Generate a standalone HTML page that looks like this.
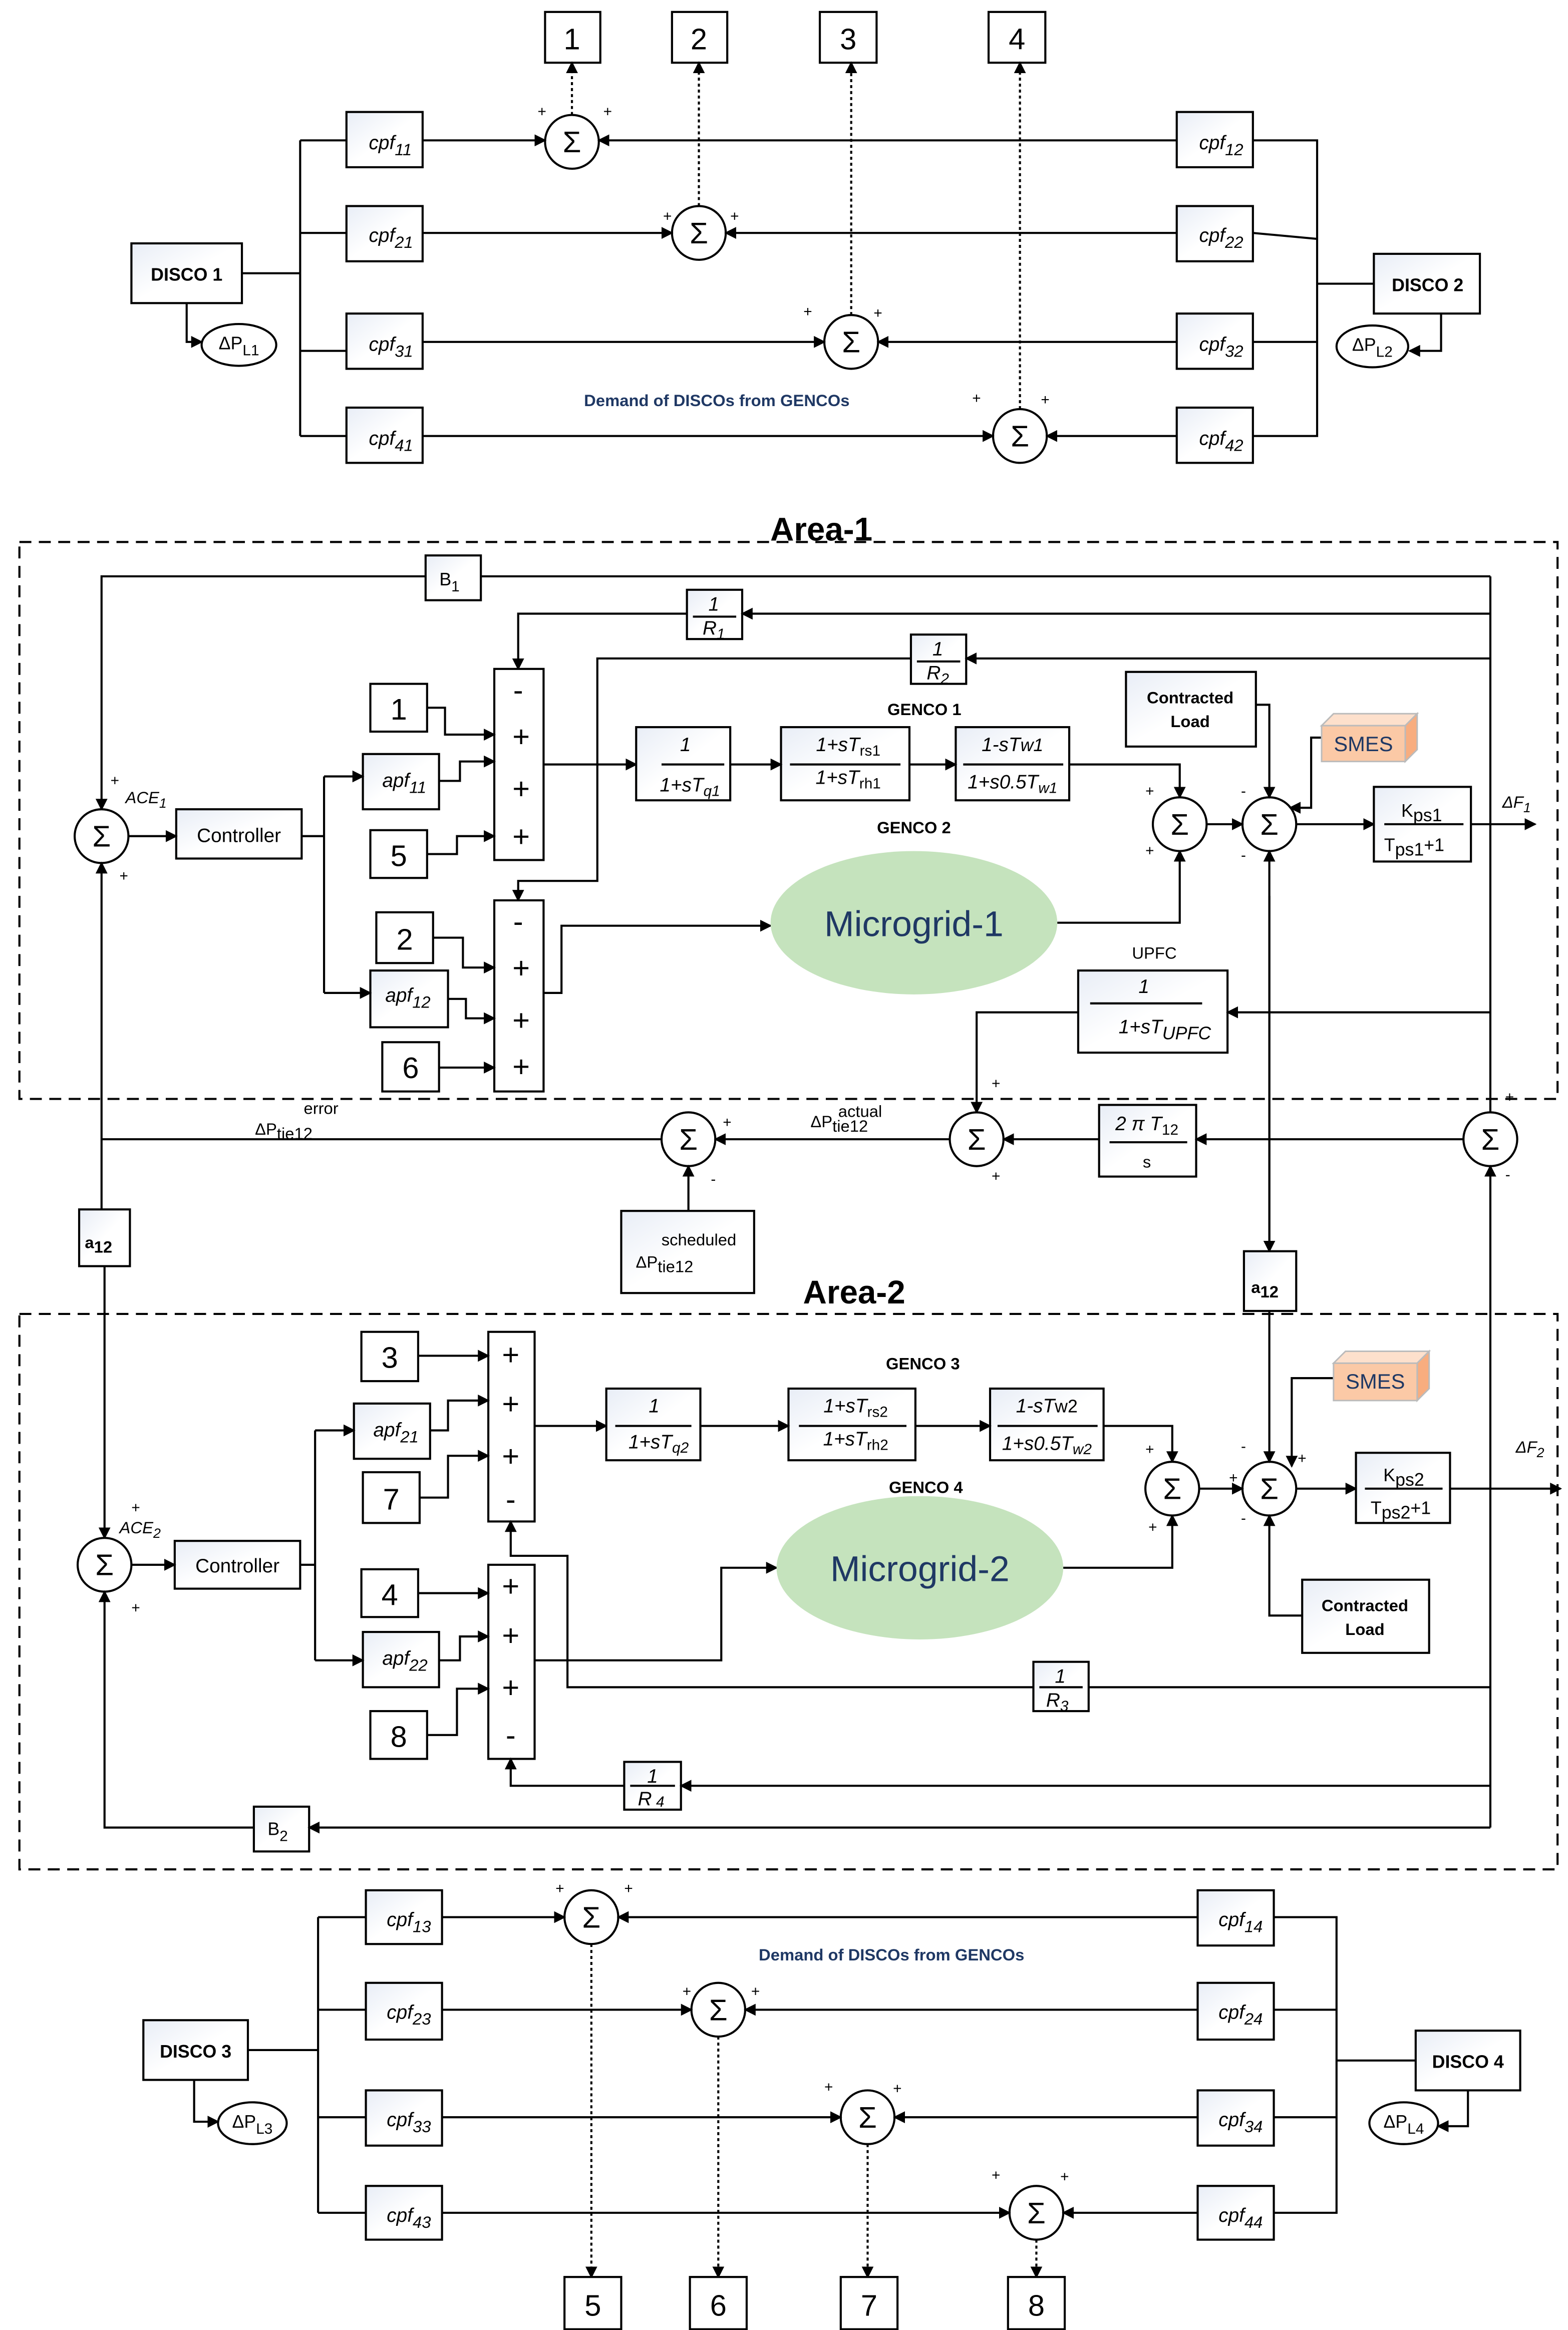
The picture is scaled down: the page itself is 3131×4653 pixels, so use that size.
<!DOCTYPE html>
<html><head><meta charset="utf-8"><style>
html,body{margin:0;padding:0;background:#fff}
svg{display:block}
text{font-family:"Liberation Sans",sans-serif;fill:#000}
</style></head><body>
<svg width="3131" height="4653" viewBox="0 0 1050 1560.5" preserveAspectRatio="none" xmlns="http://www.w3.org/2000/svg">
<defs>
<marker id="a" markerWidth="8" markerHeight="8" refX="7" refY="4" orient="auto" markerUnits="userSpaceOnUse"><path d="M0,0 L8,4 L0,8 z" fill="#000"/></marker>
<linearGradient id="g" x1="0" y1="0" x2="1" y2="1"><stop offset="0" stop-color="#e8edf6"/><stop offset="0.5" stop-color="#fff"/></linearGradient>
</defs>
<g fill="none" stroke="#000" stroke-width="1.4">

<!-- ===== TOP ===== -->
<rect x="365" y="8" width="37" height="34" fill="#fff"/>
<rect x="450" y="8" width="37" height="34" fill="#fff"/>
<rect x="549" y="8" width="38" height="34" fill="#fff"/>
<rect x="662" y="8" width="38" height="34" fill="#fff"/>
<rect x="232" y="75" width="51" height="37" fill="url(#g)"/>
<rect x="232" y="138" width="51" height="37" fill="url(#g)"/>
<rect x="232" y="210" width="51" height="37" fill="url(#g)"/>
<rect x="232" y="273" width="51" height="37" fill="url(#g)"/>
<rect x="788" y="75" width="51" height="37" fill="url(#g)"/>
<rect x="788" y="138" width="51" height="37" fill="url(#g)"/>
<rect x="788" y="210" width="51" height="37" fill="url(#g)"/>
<rect x="788" y="273" width="51" height="37" fill="url(#g)"/>
<rect x="88" y="163" width="74" height="40" fill="url(#g)"/>
<rect x="920" y="170" width="71" height="40" fill="url(#g)"/>
<ellipse cx="160" cy="231" rx="25" ry="14"/>
<ellipse cx="919" cy="232" rx="24" ry="14"/>
<path d="M125,203 V229 H135" marker-end="url(#a)"/>
<path d="M965,210 V235 H944" marker-end="url(#a)"/>
<path d="M162,183 H201 M201,94 V292 M201,94 H232 M201,156 H232 M201,235 H232 M201,292 H232"/>
<path d="M839,94 H882 V292 H839 M839,156 L882,160 M839,229 H882 M882,190 H920"/>
<circle cx="383" cy="95" r="18" fill="#fff"/>
<circle cx="468" cy="156" r="18" fill="#fff"/>
<circle cx="570" cy="229" r="18" fill="#fff"/>
<circle cx="683" cy="292" r="18" fill="#fff"/>
<path d="M283,94 H365" marker-end="url(#a)"/>
<path d="M788,94 H401" marker-end="url(#a)"/>
<path d="M283,156 H450" marker-end="url(#a)"/>
<path d="M788,156 H486" marker-end="url(#a)"/>
<path d="M283,229 H552" marker-end="url(#a)"/>
<path d="M788,229 H588" marker-end="url(#a)"/>
<path d="M283,292 H665" marker-end="url(#a)"/>
<path d="M788,292 H701" marker-end="url(#a)"/>
<g stroke-dasharray="2,2">
<path d="M383,77 V42" marker-end="url(#a)"/>
<path d="M468,138 V42" marker-end="url(#a)"/>
<path d="M570,211 V42" marker-end="url(#a)"/>
<path d="M683,274 V42" marker-end="url(#a)"/>
</g>

<!-- ===== AREA 1 ===== -->
<rect x="13" y="363" width="1030" height="373" stroke-dasharray="8,5"/>
<rect x="285" y="372" width="37" height="30" fill="url(#g)"/>
<rect x="460" y="395" width="37" height="33" fill="url(#g)"/>
<rect x="610" y="425" width="37" height="33" fill="url(#g)"/>
<path d="M998,386 H322 M285,386 H68 V542" marker-end="url(#a)"/>
<path d="M998,411 H497" marker-end="url(#a)"/>
<path d="M460,411 H347 V448" marker-end="url(#a)"/>
<path d="M998,441 H647" marker-end="url(#a)"/>
<path d="M610,441 H400 V590 H347 V603" marker-end="url(#a)"/>
<rect x="331" y="448" width="33" height="128" fill="#fff"/>
<rect x="331" y="603" width="33" height="128" fill="#fff"/>
<rect x="248" y="458" width="38" height="32" fill="#fff"/>
<rect x="243" y="505" width="51" height="37" fill="url(#g)"/>
<rect x="248" y="556" width="38" height="32" fill="#fff"/>
<rect x="252" y="611" width="38" height="34" fill="#fff"/>
<rect x="248" y="650" width="52" height="38" fill="url(#g)"/>
<rect x="256" y="698" width="38" height="33" fill="#fff"/>
<path d="M286,474 H298 V492 H331" marker-end="url(#a)"/>
<path d="M294,523 H308 V510 H331" marker-end="url(#a)"/>
<path d="M286,572 H306 V560 H331" marker-end="url(#a)"/>
<path d="M290,628 H310 V648 H331" marker-end="url(#a)"/>
<path d="M300,669 H312 V682 H331" marker-end="url(#a)"/>
<path d="M294,715 H331" marker-end="url(#a)"/>
<rect x="118" y="542" width="84" height="33" fill="url(#g)"/>
<circle cx="68" cy="560" r="18" fill="#fff"/>
<path d="M86,560 H118" marker-end="url(#a)"/>
<path d="M202,560 H217 M217,520 V665"/>
<path d="M217,520 H243" marker-end="url(#a)"/>
<path d="M217,665 H248" marker-end="url(#a)"/>
<path d="M364,512 H426" marker-end="url(#a)"/>
<rect x="426" y="487" width="63" height="49" fill="url(#g)"/>
<rect x="523" y="487" width="86" height="49" fill="url(#g)"/>
<rect x="640" y="487" width="76" height="49" fill="url(#g)"/>
<path d="M489,512 H523" marker-end="url(#a)"/>
<path d="M609,512 H640" marker-end="url(#a)"/>
<path d="M716,512 H790 V534" marker-end="url(#a)"/>
<path d="M364,665 H376 V620 H516" marker-end="url(#a)"/>
<path d="M708,618 H790 V570" marker-end="url(#a)"/>
<circle cx="790" cy="552" r="18" fill="#fff"/>
<circle cx="850" cy="552" r="18" fill="#fff"/>
<path d="M808,552 H832" marker-end="url(#a)"/>
<rect x="754" y="450" width="87" height="50" fill="url(#g)"/>
<path d="M841,472 H850 V534" marker-end="url(#a)"/>
<path d="M885,494 H878 V541 H864" marker-end="url(#a)"/>
<path d="M868,552 H920" marker-end="url(#a)"/>
<rect x="920" y="527" width="65" height="50" fill="url(#g)"/>
<path d="M985,552 H1028" marker-end="url(#a)"/>
<path d="M998,386 V745"/>
<path d="M850,838 V570" marker-end="url(#a)"/>
<path d="M850,600 V838" marker-end="url(#a)"/>
<rect x="833" y="838" width="35" height="40" fill="url(#g)"/>
<rect x="722" y="650" width="100" height="55" fill="url(#g)"/>
<path d="M998,678 H822" marker-end="url(#a)"/>
<path d="M722,678 H654 V745" marker-end="url(#a)"/>
<circle cx="998" cy="763" r="18" fill="#fff"/>
<circle cx="654" cy="763" r="18" fill="#fff"/>
<circle cx="461" cy="763" r="18" fill="#fff"/>
<rect x="736" y="740" width="65" height="48" fill="url(#g)"/>
<path d="M980,763 H801" marker-end="url(#a)"/>
<path d="M736,763 H672" marker-end="url(#a)"/>
<path d="M636,763 H479" marker-end="url(#a)"/>
<path d="M443,763 H68"/>
<rect x="416" y="811" width="89" height="55" fill="url(#g)"/>
<path d="M461,811 V781" marker-end="url(#a)"/>
<rect x="53" y="810" width="34" height="38" fill="url(#g)"/>
<path d="M68,810 V578" marker-end="url(#a)"/>
<path d="M70,848 V1030" marker-end="url(#a)"/>

<!-- ===== AREA 2 ===== -->
<rect x="13" y="880" width="1030" height="372" stroke-dasharray="8,5"/>
<rect x="242" y="892" width="38" height="33" fill="#fff"/>
<rect x="237" y="940" width="51" height="37" fill="url(#g)"/>
<rect x="243" y="986" width="38" height="34" fill="#fff"/>
<rect x="327" y="892" width="31" height="127" fill="#fff"/>
<rect x="327" y="1048" width="31" height="130" fill="#fff"/>
<rect x="242" y="1051" width="38" height="32" fill="#fff"/>
<rect x="243" y="1093" width="51" height="37" fill="url(#g)"/>
<rect x="248" y="1146" width="38" height="32" fill="#fff"/>
<path d="M280,908 H327" marker-end="url(#a)"/>
<path d="M288,958 H300 V938 H327" marker-end="url(#a)"/>
<path d="M281,1003 H300 V975 H327" marker-end="url(#a)"/>
<path d="M280,1067 H327" marker-end="url(#a)"/>
<path d="M294,1112 H308 V1096 H327" marker-end="url(#a)"/>
<path d="M286,1162 H306 V1131 H327" marker-end="url(#a)"/>
<rect x="117" y="1032" width="84" height="32" fill="url(#g)"/>
<circle cx="70" cy="1048" r="18" fill="#fff"/>
<path d="M88,1048 H117" marker-end="url(#a)"/>
<path d="M201,1048 H211 M211,958 V1112"/>
<path d="M211,958 H237" marker-end="url(#a)"/>
<path d="M211,1112 H243" marker-end="url(#a)"/>
<path d="M358,955 H406" marker-end="url(#a)"/>
<rect x="406" y="930" width="63" height="48" fill="url(#g)"/>
<rect x="528" y="930" width="85" height="48" fill="url(#g)"/>
<rect x="663" y="930" width="76" height="48" fill="url(#g)"/>
<path d="M469,955 H528" marker-end="url(#a)"/>
<path d="M613,955 H663" marker-end="url(#a)"/>
<path d="M739,955 H785 V979" marker-end="url(#a)"/>
<path d="M358,1112 H483 V1050 H520" marker-end="url(#a)"/>
<path d="M712,1050 H785 V1015" marker-end="url(#a)"/>
<circle cx="785" cy="997" r="18" fill="#fff"/>
<circle cx="850" cy="997" r="18" fill="#fff"/>
<path d="M803,997 H832" marker-end="url(#a)"/>
<path d="M850,878 V979" marker-end="url(#a)"/>
<path d="M893,923 H865 V982" marker-end="url(#a)"/>
<path d="M868,997 H908" marker-end="url(#a)"/>
<rect x="908" y="973" width="63" height="47" fill="url(#g)"/>
<path d="M971,997 H1045" marker-end="url(#a)"/>
<rect x="872" y="1058" width="85" height="49" fill="url(#g)"/>
<path d="M872,1082 H850 V1015" marker-end="url(#a)"/>
<path d="M998,1224 V781" marker-end="url(#a)"/>
<rect x="692" y="1113" width="37" height="33" fill="url(#g)"/>
<path d="M998,1130 H729 M692,1130 H380 V1042 H342 V1019" marker-end="url(#a)"/>
<rect x="418" y="1180" width="38" height="32" fill="url(#g)"/>
<path d="M998,1196 H456" marker-end="url(#a)"/>
<path d="M418,1196 H342 V1178" marker-end="url(#a)"/>
<rect x="170" y="1210" width="37" height="30" fill="url(#g)"/>
<path d="M998,1224 H207" marker-end="url(#a)"/>
<path d="M170,1224 H70 V1066" marker-end="url(#a)"/>

<!-- ===== BOTTOM ===== -->
<rect x="245" y="1266" width="51" height="36" fill="url(#g)"/>
<rect x="245" y="1328" width="51" height="38" fill="url(#g)"/>
<rect x="245" y="1400" width="51" height="37" fill="url(#g)"/>
<rect x="245" y="1464" width="51" height="36" fill="url(#g)"/>
<rect x="802" y="1266" width="51" height="37" fill="url(#g)"/>
<rect x="802" y="1328" width="51" height="38" fill="url(#g)"/>
<rect x="802" y="1400" width="51" height="37" fill="url(#g)"/>
<rect x="802" y="1464" width="51" height="36" fill="url(#g)"/>
<rect x="96" y="1353" width="70" height="40" fill="url(#g)"/>
<rect x="948" y="1360" width="70" height="40" fill="url(#g)"/>
<ellipse cx="169" cy="1422" rx="23" ry="14"/>
<ellipse cx="940" cy="1422" rx="23" ry="14"/>
<path d="M130,1393 V1421 H146" marker-end="url(#a)"/>
<path d="M983,1400 V1424 H963" marker-end="url(#a)"/>
<path d="M166,1373 H213 M213,1284 V1482 M213,1284 H245 M213,1346 H245 M213,1418 H245 M213,1482 H245"/>
<path d="M853,1284 H895 V1482 H853 M853,1346 H895 M853,1418 H895 M895,1380 H948"/>
<circle cx="396" cy="1284" r="18" fill="#fff"/>
<circle cx="481" cy="1346" r="18" fill="#fff"/>
<circle cx="581" cy="1418" r="18" fill="#fff"/>
<circle cx="694" cy="1482" r="18" fill="#fff"/>
<path d="M296,1284 H378" marker-end="url(#a)"/>
<path d="M802,1284 H414" marker-end="url(#a)"/>
<path d="M296,1346 H463" marker-end="url(#a)"/>
<path d="M802,1346 H499" marker-end="url(#a)"/>
<path d="M296,1418 H563" marker-end="url(#a)"/>
<path d="M802,1418 H599" marker-end="url(#a)"/>
<path d="M296,1482 H676" marker-end="url(#a)"/>
<path d="M802,1482 H712" marker-end="url(#a)"/>
<g stroke-dasharray="2,2">
<path d="M396,1302 V1525" marker-end="url(#a)"/>
<path d="M481,1364 V1525" marker-end="url(#a)"/>
<path d="M581,1436 V1525" marker-end="url(#a)"/>
<path d="M694,1500 V1525" marker-end="url(#a)"/>
</g>
<rect x="378" y="1525" width="38" height="35" fill="#fff"/>
<rect x="462" y="1525" width="38" height="35" fill="#fff"/>
<rect x="563" y="1525" width="38" height="35" fill="#fff"/>
<rect x="675" y="1525" width="38" height="35" fill="#fff"/>

<!-- fraction bars -->
<path d="M443,512 H485 M529,512 H603 M645,512 H712 M927,552 H980 M472,398 V398 M464,413 H493 M614,443 H643 M730,672 H805 M743,765 H795"/>
<path d="M412,955 H463 M535,955 H607 M668,955 H735 M914,997 H966 M696,1130 H725 M422,1196 H452"/>
</g>

<!-- ellipses microgrid -->
<ellipse cx="612" cy="618" rx="96" ry="48" fill="#c5e3bd"/>
<ellipse cx="616" cy="1050" rx="96" ry="48" fill="#c5e3bd"/>
<text x="612" y="627" font-size="24" text-anchor="middle" style="fill:#1f3864">Microgrid-1</text>
<text x="616" y="1059" font-size="24" text-anchor="middle" style="fill:#1f3864">Microgrid-2</text>

<!-- SMES -->
<g stroke="#bbb" stroke-width="1">
<path d="M885,486 L893,478 H949 L941,486 z" fill="#fde0cc"/><path d="M941,486 L949,478 V502 L941,510 z" fill="#f8ad7f"/><rect x="885" y="486" width="56" height="24" fill="#fbc9a6"/>
<path d="M893,913 L901,905 H957 L949,913 z" fill="#fde0cc"/><path d="M949,913 L957,905 V930 L949,938 z" fill="#f8ad7f"/><rect x="893" y="913" width="56" height="25" fill="#fbc9a6"/>
</g>
<text x="913" y="503" font-size="14" text-anchor="middle" style="fill:#1f3864">SMES</text>
<text x="921" y="930" font-size="14" text-anchor="middle" style="fill:#1f3864">SMES</text>

<!-- TEXT -->
<g font-size="20" text-anchor="middle">
<text x="383" y="33">1</text><text x="468" y="33">2</text><text x="568" y="33">3</text><text x="681" y="33">4</text>
<text x="267" y="482">1</text><text x="267" y="580">5</text><text x="271" y="636">2</text><text x="275" y="722">6</text>
<text x="261" y="916">3</text><text x="262" y="1011">7</text><text x="261" y="1075">4</text><text x="267" y="1170">8</text>
<text x="397" y="1551">5</text><text x="481" y="1551">6</text><text x="582" y="1551">7</text><text x="694" y="1551">8</text>
</g>
<g font-size="20" text-anchor="middle">
<text x="347" y="469">-</text><text x="349" y="500">+</text><text x="349" y="535">+</text><text x="349" y="567">+</text>
<text x="347" y="624">-</text><text x="349" y="655">+</text><text x="349" y="690">+</text><text x="349" y="721">+</text>
<text x="342" y="914">+</text><text x="342" y="947">+</text><text x="342" y="982">+</text><text x="342" y="1011">-</text>
<text x="342" y="1069">+</text><text x="342" y="1102">+</text><text x="342" y="1137">+</text><text x="342" y="1169">-</text>
</g>
<g font-size="20" text-anchor="middle">
<text x="383" y="102">Σ</text><text x="468" y="163">Σ</text><text x="570" y="236">Σ</text><text x="683" y="299">Σ</text>
<text x="68" y="567">Σ</text><text x="790" y="559">Σ</text><text x="850" y="559">Σ</text>
<text x="998" y="770">Σ</text><text x="654" y="770">Σ</text><text x="461" y="770">Σ</text>
<text x="70" y="1055">Σ</text><text x="785" y="1004">Σ</text><text x="850" y="1004">Σ</text>
<text x="396" y="1291">Σ</text><text x="481" y="1353">Σ</text><text x="581" y="1425">Σ</text><text x="694" y="1489">Σ</text>
</g>
<g font-size="10">
<text x="360" y="78">+</text><text x="404" y="78">+</text>
<text x="444" y="148">+</text><text x="489" y="148">+</text>
<text x="538" y="212">+</text><text x="585" y="213">+</text>
<text x="651" y="270">+</text><text x="697" y="271">+</text>
<text x="74" y="526">+</text><text x="80" y="590">+</text>
<text x="767" y="533">+</text><text x="767" y="573">+</text>
<text x="831" y="533">-</text><text x="831" y="576">-</text>
<text x="664" y="729">+</text><text x="664" y="791">+</text>
<text x="484" y="755">+</text><text x="476" y="793">-</text>
<text x="1008" y="738">+</text><text x="1008" y="790">-</text>
<text x="88" y="1013">+</text><text x="88" y="1080">+</text>
<text x="767" y="974">+</text><text x="769" y="1026">+</text>
<text x="831" y="972">-</text><text x="823" y="993">+</text><text x="869" y="980">+</text><text x="831" y="1020">-</text>
<text x="372" y="1268">+</text><text x="418" y="1268">+</text>
<text x="457" y="1337">+</text><text x="503" y="1337">+</text>
<text x="552" y="1401">+</text><text x="598" y="1402">+</text>
<text x="664" y="1460">+</text><text x="710" y="1461">+</text>
</g>
<g font-size="13" font-style="italic">
<text x="247" y="100">cpf<tspan dy="4" font-size="11">11</tspan></text>
<text x="247" y="162">cpf<tspan dy="4" font-size="11">21</tspan></text>
<text x="247" y="235">cpf<tspan dy="4" font-size="11">31</tspan></text>
<text x="247" y="298">cpf<tspan dy="4" font-size="11">41</tspan></text>
<text x="803" y="100">cpf<tspan dy="4" font-size="11">12</tspan></text>
<text x="803" y="162">cpf<tspan dy="4" font-size="11">22</tspan></text>
<text x="803" y="235">cpf<tspan dy="4" font-size="11">32</tspan></text>
<text x="803" y="298">cpf<tspan dy="4" font-size="11">42</tspan></text>
<text x="259" y="1290">cpf<tspan dy="4" font-size="11">13</tspan></text>
<text x="259" y="1352">cpf<tspan dy="4" font-size="11">23</tspan></text>
<text x="259" y="1424">cpf<tspan dy="4" font-size="11">33</tspan></text>
<text x="259" y="1488">cpf<tspan dy="4" font-size="11">43</tspan></text>
<text x="816" y="1290">cpf<tspan dy="4" font-size="11">14</tspan></text>
<text x="816" y="1352">cpf<tspan dy="4" font-size="11">24</tspan></text>
<text x="816" y="1424">cpf<tspan dy="4" font-size="11">34</tspan></text>
<text x="816" y="1488">cpf<tspan dy="4" font-size="11">44</tspan></text>
<text x="256" y="527">apf<tspan dy="4" font-size="11">11</tspan></text>
<text x="258" y="671">apf<tspan dy="4" font-size="11">12</tspan></text>
<text x="250" y="962">apf<tspan dy="4" font-size="11">21</tspan></text>
<text x="256" y="1115">apf<tspan dy="4" font-size="11">22</tspan></text>
<text x="84" y="538" font-size="11">ACE<tspan dy="3" font-size="9">1</tspan></text>
<text x="80" y="1027" font-size="11">ACE<tspan dy="3" font-size="9">2</tspan></text>
<text x="1006" y="541" font-size="11">ΔF<tspan dy="3" font-size="9">1</tspan></text>
<text x="1015" y="973" font-size="11">ΔF<tspan dy="3" font-size="9">2</tspan></text>
</g>
<g font-size="12" font-weight="bold" text-anchor="middle">
<text x="125" y="188">DISCO 1</text><text x="956" y="195">DISCO 2</text>
<text x="131" y="1378">DISCO 3</text><text x="983" y="1385">DISCO 4</text>
<text x="619" y="479" font-size="11">GENCO 1</text><text x="612" y="558" font-size="11">GENCO 2</text>
<text x="618" y="917" font-size="11">GENCO 3</text><text x="620" y="1000" font-size="11">GENCO 4</text>
<text x="797" y="471" font-size="11">Contracted</text><text x="797" y="487" font-size="11">Load</text>
<text x="914" y="1079" font-size="11">Contracted</text><text x="914" y="1095" font-size="11">Load</text>
<text x="480" y="272" font-size="11" style="fill:#1f3864">Demand of DISCOs from GENCOs</text>
<text x="597" y="1313" font-size="11" style="fill:#1f3864">Demand of DISCOs from GENCOs</text>
<text x="550" y="362" font-size="22">Area-1</text>
<text x="572" y="873" font-size="22">Area-2</text>
<text x="66" y="836" font-size="11">a<tspan dy="3">12</tspan></text>
<text x="847" y="866" font-size="11">a<tspan dy="3">12</tspan></text>
</g>
<g font-size="12" text-anchor="middle">
<text x="160" y="234">ΔP<tspan dy="4" font-size="10">L1</tspan></text>
<text x="919" y="235">ΔP<tspan dy="4" font-size="10">L2</tspan></text>
<text x="169" y="1425">ΔP<tspan dy="4" font-size="10">L3</tspan></text>
<text x="940" y="1425">ΔP<tspan dy="4" font-size="10">L4</tspan></text>
<text x="160" y="564" font-size="13">Controller</text>
<text x="159" y="1053" font-size="13">Controller</text>
<text x="301" y="392">B<tspan dy="4" font-size="10">1</tspan></text>
<text x="186" y="1229">B<tspan dy="4" font-size="10">2</tspan></text>
<text x="773" y="642" font-size="11">UPFC</text>
<text x="952" y="547" font-size="12">K<tspan dy="3">ps1</tspan></text>
<text x="947" y="570" font-size="12">T<tspan dy="3">ps1</tspan><tspan dy="-3">+1</tspan></text>
<text x="940" y="992" font-size="12">K<tspan dy="3">ps2</tspan></text>
<text x="938" y="1014" font-size="12">T<tspan dy="3">ps2</tspan><tspan dy="-3">+1</tspan></text>
<text x="190" y="760" font-size="11">ΔP<tspan dy="3">tie12</tspan></text>
<text x="215" y="746" font-size="11">error</text>
<text x="562" y="755" font-size="11">ΔP<tspan dy="3">tie12</tspan></text>
<text x="576" y="748" font-size="11">actual</text>
<text x="468" y="834" font-size="11">scheduled</text>
<text x="445" y="849" font-size="11">ΔP<tspan dy="3">tie12</tspan></text>
</g>
<g font-size="13" font-style="italic" text-anchor="middle">
<text x="478" y="409">1</text><text x="478" y="425">R<tspan dy="3" font-size="10">1</tspan></text>
<text x="628" y="439">1</text><text x="628" y="455">R<tspan dy="3" font-size="10">2</tspan></text>
<text x="459" y="503">1</text><text x="462" y="530">1+sT<tspan dy="3" font-size="10">q1</tspan></text>
<text x="568" y="503">1+sT<tspan dy="3" font-size="10" font-style="normal">rs1</tspan></text><text x="568" y="525">1+sT<tspan dy="3" font-size="10" font-style="normal">rh1</tspan></text>
<text x="678" y="503">1-sT<tspan font-size="12">w1</tspan></text><text x="678" y="528">1+s0.5T<tspan dy="3" font-size="10">w1</tspan></text>
<text x="766" y="665">1</text><text x="780" y="692">1+sT<tspan dy="4" font-size="12">UPFC</tspan></text>
<text x="768" y="757">2 π T<tspan dy="3" font-size="10" font-style="normal">12</tspan></text>
<text x="768" y="782" font-size="11" font-style="normal">s</text>
<text x="438" y="946">1</text><text x="441" y="970">1+sT<tspan dy="3" font-size="10">q2</tspan></text>
<text x="573" y="946">1+sT<tspan dy="3" font-size="10" font-style="normal">rs2</tspan></text><text x="573" y="968">1+sT<tspan dy="3" font-size="10" font-style="normal">rh2</tspan></text>
<text x="701" y="946">1-sT<tspan font-size="12" font-style="normal">w2</tspan></text><text x="701" y="971">1+s0.5T<tspan dy="3" font-size="10">w2</tspan></text>
<text x="710" y="1127">1</text><text x="708" y="1143">R<tspan dy="3" font-size="10">3</tspan></text>
<text x="437" y="1194">1</text><text x="436" y="1209">R<tspan dy="1" font-size="10"> 4</tspan></text>
</g>
</svg>
</body></html>
